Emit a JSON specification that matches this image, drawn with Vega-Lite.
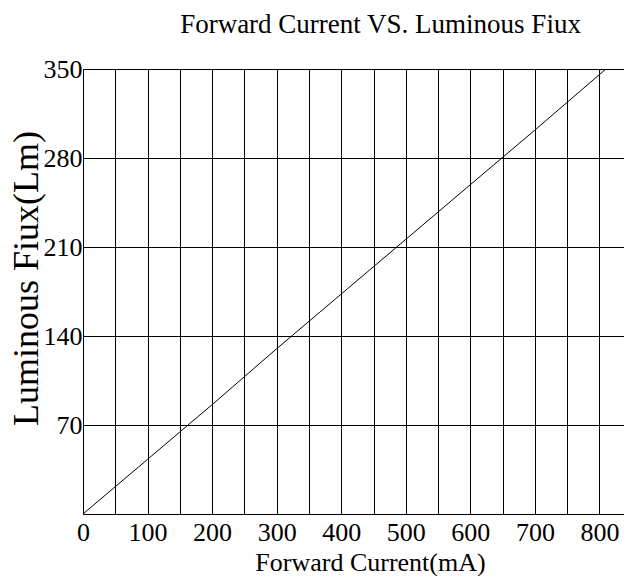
{
  "$schema": "https://vega.github.io/schema/vega-lite/v6.json",
  "autosize": "none",
  "width": 541,
  "height": 445,
  "padding": {"left": 83, "top": 69, "right": 0, "bottom": 62},
  "background": "white",
  "config": {"view": {"stroke": null}, "font": "Liberation Serif"},
  "title": {"text": "Forward Current VS. Luminous Fiux", "font": "Liberation Serif", "fontSize": 27, "fontWeight": "normal", "color": "black", "anchor": "middle", "dx": 27, "dy": 28, "offset": 24, "baseline": "alphabetic"},
  "data": {"values": [
    {"current": 0, "flux": 0},
    {"current": 100, "flux": 43},
    {"current": 200, "flux": 86},
    {"current": 300, "flux": 130},
    {"current": 400, "flux": 173},
    {"current": 500, "flux": 216},
    {"current": 600, "flux": 259},
    {"current": 700, "flux": 302},
    {"current": 810, "flux": 350}
  ]},
  "mark": {"type": "line", "color": "black", "strokeWidth": 1, "clip": true},
  "encoding": {
    "x": {"field": "current", "type": "quantitative",
      "scale": {"domain": [0, 838], "nice": false, "zero": true},
      "axis": {"values": [0,50,100,150,200,250,300,350,400,450,500,550,600,650,700,750,800],
        "labelExpr": "datum.value % 100 == 0 ? datum.label : ''",
        "grid": true, "gridColor": "black", "gridOpacity": 1, "gridWidth": 1,
        "ticks": false, "domainColor": "black", "domainWidth": 1,
        "labelFont": "Liberation Serif", "labelFontSize": 26, "labelColor": "black", "labelPadding": 5, "labelFlush": false, "labelOverlap": false,
        "title": "Forward Current(mA)", "titleFont": "Liberation Serif", "titleFontSize": 26, "titleFontWeight": "normal", "titleColor": "black",
        "titleX": 287, "titleY": 56, "titleBaseline": "alphabetic", "titleAnchor": "middle"}},
    "y": {"field": "flux", "type": "quantitative",
      "scale": {"domain": [0, 350], "nice": false},
      "axis": {"values": [0,70,140,210,280,350],
        "labelExpr": "datum.value == 0 ? '' : datum.label",
        "grid": true, "gridColor": "black", "gridOpacity": 1, "gridWidth": 1,
        "ticks": false, "domainColor": "black", "domainWidth": 1,
        "labelFont": "Liberation Serif", "labelFontSize": 26, "labelColor": "black", "labelPadding": 1, "labelFlush": false, "labelOverlap": false,
        "title": "Luminous Fiux(Lm)", "titleFont": "Liberation Serif", "titleFontSize": 36, "titleFontWeight": "normal", "titleColor": "black",
        "titleAngle": -90, "titleX": -57, "titleY": 209, "titleBaseline": "middle", "titleAlign": "center"}}
  }
}
